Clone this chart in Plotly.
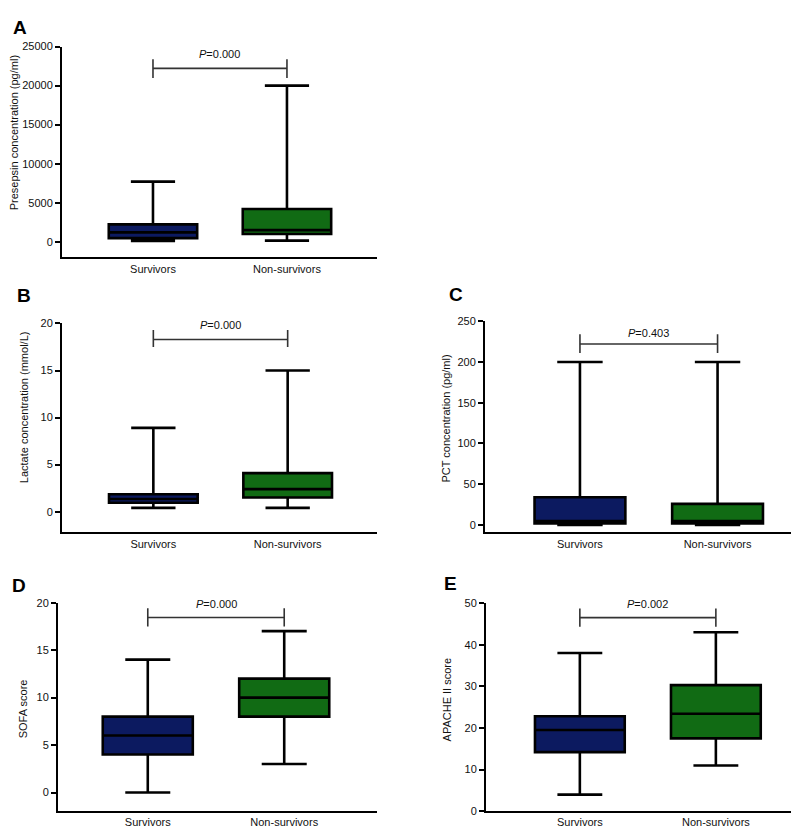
import plotly.graph_objects as go

# ---------------- data ----------------
groups = ["Survivors", "Non-survivors"]
panel_letters = ["A", "B", "C", "D", "E"]
y_titles = ["Presepsin concentration (pg/ml)", "Lactate concentration (mmol/L)",
            "PCT concentration (pg/ml)", "SOFA score", "APACHE II score"]
p_values = ["0.000", "0.000", "0.403", "0.000", "0.002"]

# per panel: [survivors, non-survivors]
presepsin_min = [120, 150]
presepsin_q1 = [470, 1000]
presepsin_med = [1200, 1500]
presepsin_q3 = [2230, 4200]
presepsin_max = [7700, 20000]

lactate_min = [0.4, 0.4]
lactate_q1 = [0.95, 1.5]
lactate_med = [1.35, 2.4]
lactate_q3 = [1.85, 4.1]
lactate_max = [8.9, 15.0]

pct_min = [0.0, 0.0]
pct_q1 = [2.0, 2.0]
pct_med = [5.0, 5.0]
pct_q3 = [34.0, 26.0]
pct_max = [200.0, 200.0]

sofa_min = [0, 3]
sofa_q1 = [4, 8]
sofa_med = [6, 10]
sofa_q3 = [8, 12]
sofa_max = [14, 17]

apache_min = [4.0, 11.0]
apache_q1 = [14.2, 17.5]
apache_med = [19.5, 23.4]
apache_q3 = [22.8, 30.3]
apache_max = [38.0, 43.0]

y_max = [25000, 20, 250, 20, 50]
y_min = [-2000, -2.2, -9, -1.9, 0]
y_dtick = [5000, 5, 50, 5, 10]

# significance bracket levels (data units)
bracket_level = [22200, 18.3, 222, 18.44, 46.5]
bracket_top = [23360, 19.3, 234, 19.4, 48.7]
bracket_bottom = [20960, 17.5, 211, 17.5, 44.3]
p_text_level = [24030, 19.8, 235, 19.9, 49.8]

stats = [
    (presepsin_min, presepsin_q1, presepsin_med, presepsin_q3, presepsin_max),
    (lactate_min, lactate_q1, lactate_med, lactate_q3, lactate_max),
    (pct_min, pct_q1, pct_med, pct_q3, pct_max),
    (sofa_min, sofa_q1, sofa_med, sofa_q3, sofa_max),
    (apache_min, apache_q1, apache_med, apache_q3, apache_max),
]

# ---------------- layout geometry ----------------
W, H = 799, 828
colors = ["#0c1a60", "#116b14"]
FONT = "Arial, Liberation Sans, Helvetica, sans-serif"

# pixel boxes: (x_left, x_right, y_top, y_bottom)
px_domains = [
    (54, 369, 33, 247),
    (54, 369, 314, 526),
    (477, 799, 311.7, 526),
    (50, 369, 597.3, 808.3),
    (478, 799, 597.7, 809),
]
x_ranges = [(-0.679, 1.672), (-0.68, 1.665), (-0.69, 1.65), (-0.658, 1.68), (-0.69, 1.67)]
letter_pos = [(3, 13.5), (7, 286), (439, 284.5), (2, 579.5), (434, 577.5)]
title_pos = [(6, 121), (16, 399), (438.5, 411), (15, 705.5), (439, 695.5)]

fig = go.Figure()
layout = dict(
    width=W, height=H,
    margin=dict(l=0, r=0, t=0, b=0),
    paper_bgcolor="white", plot_bgcolor="white",
    showlegend=False, boxmode="overlay",
    font=dict(family=FONT, size=11, color="#111"),
)
annotations = []
shapes = []

for i in range(5):
    ax = "" if i == 0 else str(i + 1)
    xa, ya = "x" + ax, "y" + ax
    mn, q1, med, q3, mx = stats[i]
    for g in range(2):
        fig.add_trace(go.Box(
            x=[groups[g]], q1=[q1[g]], median=[med[g]], q3=[q3[g]],
            lowerfence=[mn[g]], upperfence=[mx[g]],
            width=0.66, whiskerwidth=0.5, boxpoints=False,
            fillcolor=colors[g], line=dict(color="black", width=2.6),
            xaxis=xa, yaxis=ya, name=groups[g],
        ))
    xl, xr, yt, yb = px_domains[i]
    layout["xaxis" + ax] = dict(
        domain=[xl / W, xr / W], anchor=ya,
        type="category", categoryorder="array", categoryarray=groups,
        range=list(x_ranges[i]),
        showline=True, linecolor="black", linewidth=2,
        ticks="", showgrid=False, zeroline=False,
        tickfont=dict(size=11, family=FONT, color="#111"),
        fixedrange=True,
    )
    layout["yaxis" + ax] = dict(
        domain=[1 - yb / H, 1 - yt / H], anchor=xa,
        range=[y_min[i], y_max[i]], tick0=0, dtick=y_dtick[i], tickformat="d",
        showline=True, linecolor="black", linewidth=2,
        ticks="outside", ticklen=5, tickwidth=2, tickcolor="black",
        showgrid=False, zeroline=False,
        tickfont=dict(size=11, family=FONT, color="#111"),
        fixedrange=True,
    )
    # bracket
    line_style = dict(color="#333", width=1.6)
    shapes.append(dict(type="line", xref=xa, yref=ya, x0=groups[0], x1=groups[1],
                       y0=bracket_level[i], y1=bracket_level[i], line=line_style))
    for g in range(2):
        shapes.append(dict(type="line", xref=xa, yref=ya, x0=groups[g], x1=groups[g],
                           y0=bracket_bottom[i], y1=bracket_top[i], line=line_style))
    annotations.append(dict(
        xref=xa, yref=ya, x=0.5, y=p_text_level[i], showarrow=False,
        text="<i>P</i>=" + p_values[i], yanchor="middle", xanchor="center",
        font=dict(size=11, family=FONT, color="#111"),
    ))
    # panel letter
    lx, ly = letter_pos[i]
    annotations.append(dict(
        xref="paper", yref="paper", x=lx / W, y=1 - ly / H, showarrow=False,
        text="<b>" + panel_letters[i] + "</b>", xanchor="left", yanchor="middle",
        font=dict(size=19, family=FONT, color="black"),
    ))
    # y axis title
    tx, ty = title_pos[i]
    annotations.append(dict(
        xref="paper", yref="paper", x=tx / W, y=1 - ty / H, showarrow=False,
        text=y_titles[i], textangle=-90, xanchor="center", yanchor="middle",
        font=dict(size=11, family=FONT, color="#111"),
    ))

layout["annotations"] = annotations
layout["shapes"] = shapes
fig.update_layout(**layout)
fig.write_html("out.html")
